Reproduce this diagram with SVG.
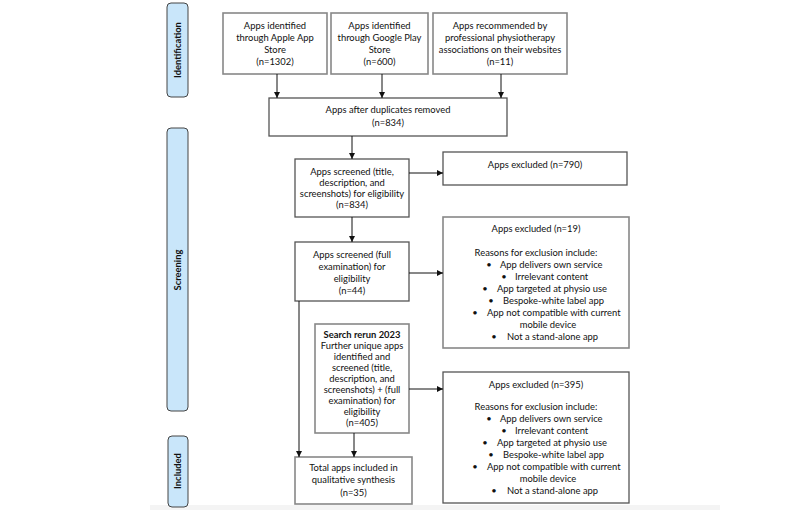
<svg xmlns="http://www.w3.org/2000/svg" width="800" height="510" viewBox="0 0 800 510">
<defs>
<marker id="ah" markerUnits="userSpaceOnUse" markerWidth="6" markerHeight="6" viewBox="0 0 6 6" refX="6" refY="3" orient="auto">
<path d="M0,0 L6,3 L0,6 Z" fill="#111"/>
</marker>
<style>
.t{font-family:Lato,"Liberation Sans",Arial,sans-serif;font-size:9.4px;fill:#111;text-anchor:middle}
.s{text-anchor:start}
.b{font-weight:bold}
.side{fill:#c9e6fa;stroke:#444;stroke-width:1}
.bx{fill:#fff;stroke:#555;stroke-width:1.3}
.bg{fill:#fff;stroke:#888;stroke-width:1.6}
.c{stroke:#111;stroke-width:1;fill:none;marker-end:url(#ah)}
</style>
</defs>
<rect width="800" height="510" fill="#fff"/>
<rect x="150" y="505" width="570" height="5" fill="#f4f4f4"/>

<g id="phase-identification">
<rect class="side" x="167" y="3" width="21" height="94" rx="4"/>
<text class="t b" transform="translate(181,50) rotate(-90)">Identification</text>
</g>
<g id="phase-screening">
<rect class="side" x="167" y="128" width="21" height="283" rx="4"/>
<text class="t b" transform="translate(181,270) rotate(-90)">Screening</text>
</g>
<g id="phase-included">
<rect class="side" x="168" y="436" width="20" height="71" rx="4"/>
<text class="t b" transform="translate(181,471) rotate(-90)">Included</text>
</g>

<g id="apple">
<rect class="bg" x="223" y="13" width="104" height="61"/>
<text class="t" x="275" y="29">Apps identified</text>
<text class="t" x="275" y="41">through Apple App</text>
<text class="t" x="275" y="53">Store</text>
<text class="t" x="275" y="65">(n=1302)</text>
</g>
<g id="google">
<rect class="bg" x="331" y="13" width="97" height="61"/>
<text class="t" x="379.5" y="29">Apps identified</text>
<text class="t" x="379.5" y="41">through Google Play</text>
<text class="t" x="379.5" y="53">Store</text>
<text class="t" x="379.5" y="65">(n=600)</text>
</g>
<g id="associations">
<rect class="bg" x="433" y="13" width="134" height="61"/>
<text class="t" x="500" y="29">Apps recommended by</text>
<text class="t" x="500" y="41">professional physiotherapy</text>
<text class="t" x="500" y="53">associations on their websites</text>
<text class="t" x="500" y="65">(n=11)</text>
</g>
<g id="duplicates">
<rect class="bx" x="269" y="98" width="238" height="38"/>
<text class="t" x="388" y="113">Apps after duplicates removed</text>
<text class="t" x="388" y="126">(n=834)</text>
</g>
<g id="screened">
<rect class="bx" x="295" y="159" width="114" height="58"/>
<text class="t" x="352" y="175">Apps screened (title,</text>
<text class="t" x="352" y="186">description, and</text>
<text class="t" x="352" y="197">screenshots) for eligibility</text>
<text class="t" x="352" y="208">(n=834)</text>
</g>
<g id="excluded790">
<rect class="bx" x="443" y="152" width="184" height="33"/>
<text class="t" x="535" y="168">Apps excluded (n=790)</text>
</g>
<g id="fullexam">
<rect class="bx" x="295" y="242" width="114" height="59"/>
<text class="t" x="352" y="258">Apps screened (full</text>
<text class="t" x="352" y="270">examination) for</text>
<text class="t" x="352" y="282">eligibility</text>
<text class="t" x="352" y="294">(n=44)</text>
</g>
<g id="excluded19">
<rect class="bg" x="443" y="217" width="186" height="131"/>
<text class="t" x="536" y="232">Apps excluded (n=19)</text>
<text class="t" x="536" y="256">Reasons for exclusion include:</text>
<text class="t" x="489" y="268">•</text><text class="t s" x="500" y="268">App delivers own service</text>
<text class="t" x="504" y="280">•</text><text class="t s" x="515" y="280">Irrelevant content</text>
<text class="t" x="485" y="292">•</text><text class="t s" x="497" y="292">App targeted at physio use</text>
<text class="t" x="491" y="304">•</text><text class="t s" x="503" y="304">Bespoke-white label app</text>
<text class="t" x="475" y="316">•</text><text class="t s" x="487" y="316">App not compatible with current</text>
<text class="t" x="548" y="328">mobile device</text>
<text class="t" x="494" y="340">•</text><text class="t s" x="507" y="340">Not a stand-alone app</text>
</g>
<g id="rerun">
<rect class="bg" x="315" y="324" width="94" height="109"/>
<text class="t b" x="362" y="338">Search rerun 2023</text>
<text class="t" x="362" y="349">Further unique apps</text>
<text class="t" x="362" y="360">identified and</text>
<text class="t" x="362" y="371">screened (title,</text>
<text class="t" x="362" y="382">description, and</text>
<text class="t" x="362" y="393">screenshots) + (full</text>
<text class="t" x="362" y="404">examination) for</text>
<text class="t" x="362" y="415">eligibility</text>
<text class="t" x="362" y="426">(n=405)</text>
</g>
<g id="total">
<rect class="bg" x="295" y="457" width="117" height="47"/>
<text class="t" x="353.5" y="471">Total apps included in</text>
<text class="t" x="353.5" y="483">qualitative synthesis</text>
<text class="t" x="353.5" y="496">(n=35)</text>
</g>
<g id="excluded395">
<rect class="bx" x="443" y="372" width="186" height="131"/>
<text class="t" x="536" y="388">Apps excluded (n=395)</text>
<text class="t" x="536" y="410">Reasons for exclusion include:</text>
<text class="t" x="489" y="422">•</text><text class="t s" x="500" y="422">App delivers own service</text>
<text class="t" x="504" y="434">•</text><text class="t s" x="515" y="434">Irrelevant content</text>
<text class="t" x="485" y="446">•</text><text class="t s" x="497" y="446">App targeted at physio use</text>
<text class="t" x="491" y="458">•</text><text class="t s" x="503" y="458">Bespoke-white label app</text>
<text class="t" x="475" y="470">•</text><text class="t s" x="487" y="470">App not compatible with current</text>
<text class="t" x="548" y="482">mobile device</text>
<text class="t" x="494" y="494">•</text><text class="t s" x="507" y="494">Not a stand-alone app</text>
</g>

<g id="connectors">
<line class="c" x1="277" y1="74" x2="277" y2="98"/>
<line class="c" x1="382" y1="74" x2="382" y2="98"/>
<line class="c" x1="501" y1="74" x2="501" y2="98"/>
<line class="c" x1="352" y1="136" x2="352" y2="159"/>
<line class="c" x1="409" y1="173" x2="443" y2="173"/>
<line class="c" x1="352" y1="217" x2="352" y2="242"/>
<line class="c" x1="409" y1="273" x2="443" y2="273"/>
<line class="c" x1="299" y1="301" x2="299" y2="457"/>
<line class="c" x1="354" y1="433" x2="354" y2="457"/>
<line class="c" x1="409" y1="389" x2="443" y2="389"/>
</g>
</svg>
